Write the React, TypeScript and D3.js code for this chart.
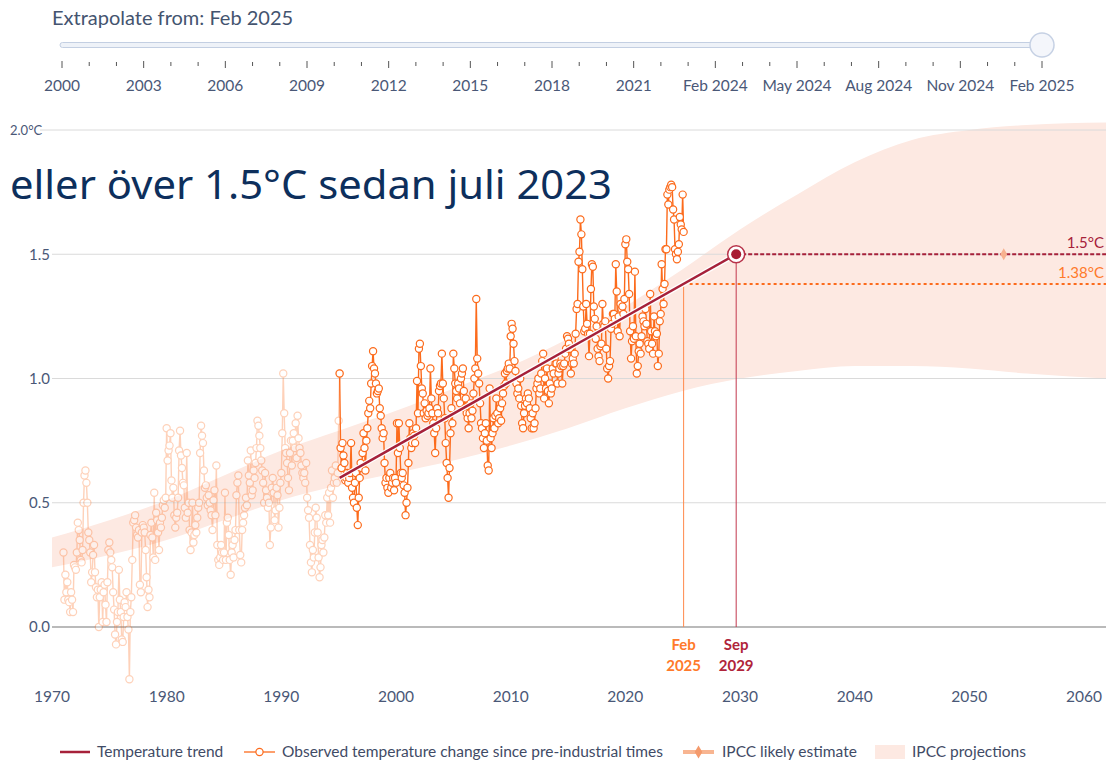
import { useEffect, useRef } from "react";
import * as d3 from "d3";

// monthly observed temperature change since pre-industrial (°C), Jan..Dec
const obsFirstYear = 1971;
const obs1971 = [0.3, 0.11, 0.21, 0.14, 0.18, 0.11, 0.1, 0.06, 0.14, 0.11, 0.06, 0.25];
const obs1972 = [0.24, 0.23, 0.3, 0.42, 0.39, 0.35, 0.27, 0.26, 0.31, 0.5, 0.61, 0.63];
const obs1973 = [0.58, 0.5, 0.38, 0.35, 0.3, 0.18, 0.22, 0.29, 0.33, 0.22, 0.16, 0.12];
const obs1974 = [0.15, 0.0, 0.12, 0.15, 0.18, 0.02, 0.14, 0.17, 0.09, 0.02, 0.18, 0.31];
const obs1975 = [0.34, 0.3, 0.27, 0.24, 0.14, 0.07, -0.03, -0.07, 0.02, 0.06, 0.23, 0.11];
const obs1976 = [0.06, -0.05, -0.06, 0.04, 0.1, 0.08, 0.14, 0.04, -0.01, -0.21, 0.06, 0.12];
const obs1977 = [0.27, 0.42, 0.43, 0.45, 0.4, 0.37, 0.36, 0.39, 0.17, 0.14, 0.38, 0.41];
const obs1978 = [0.4, 0.38, 0.31, 0.2, 0.08, 0.15, 0.12, 0.37, 0.42, 0.36, 0.28, 0.54];
const obs1979 = [0.27, 0.46, 0.43, 0.38, 0.31, 0.42, 0.4, 0.44, 0.49, 0.51, 0.48, 0.52];
const obs1980 = [0.8, 0.67, 0.71, 0.73, 0.78, 0.59, 0.52, 0.56, 0.45, 0.4, 0.44, 0.46];
const obs1981 = [0.52, 0.71, 0.79, 0.69, 0.64, 0.58, 0.57, 0.48, 0.44, 0.7, 0.46, 0.5];
const obs1982 = [0.39, 0.31, 0.38, 0.5, 0.34, 0.37, 0.41, 0.38, 0.44, 0.48, 0.5, 0.7];
const obs1983 = [0.81, 0.77, 0.74, 0.63, 0.56, 0.57, 0.52, 0.49, 0.53, 0.5, 0.47, 0.45];
const obs1984 = [0.39, 0.51, 0.55, 0.45, 0.65, 0.33, 0.27, 0.25, 0.28, 0.33, 0.3, 0.27];
const obs1985 = [0.3, 0.54, 0.27, 0.42, 0.44, 0.37, 0.27, 0.21, 0.3, 0.33, 0.28, 0.35];
const obs1986 = [0.39, 0.53, 0.58, 0.61, 0.39, 0.29, 0.26, 0.39, 0.42, 0.45, 0.48, 0.52];
const obs1987 = [0.49, 0.67, 0.61, 0.58, 0.71, 0.53, 0.55, 0.63, 0.6, 0.66, 0.72, 0.83];
const obs1988 = [0.81, 0.77, 0.72, 0.67, 0.63, 0.58, 0.5, 0.62, 0.55, 0.52, 0.48, 0.5];
const obs1989 = [0.33, 0.4, 0.56, 0.6, 0.54, 0.43, 0.47, 0.56, 0.53, 0.4, 0.48, 0.58];
const obs1990 = [0.62, 0.78, 1.02, 0.86, 0.72, 0.7, 0.66, 0.6, 0.55, 0.7, 0.75, 0.65];
const obs1991 = [0.75, 0.78, 0.72, 0.82, 0.68, 0.85, 0.76, 0.72, 0.7, 0.65, 0.62, 0.6];
const obs1992 = [0.62, 0.58, 0.66, 0.52, 0.47, 0.44, 0.33, 0.26, 0.22, 0.31, 0.28, 0.38];
const obs1993 = [0.48, 0.44, 0.38, 0.28, 0.2, 0.24, 0.33, 0.35, 0.3, 0.36, 0.45, 0.42];
const obs1994 = [0.52, 0.45, 0.54, 0.42, 0.56, 0.63, 0.52, 0.58, 0.6, 0.65, 0.58, 0.62];
const obs1995 = [0.83, 1.02, 0.72, 0.64, 0.74, 0.69, 0.66, 0.59, 0.6, 0.62, 0.58, 0.6];
const obs1996 = [0.62, 0.74, 0.56, 0.52, 0.5, 0.58, 0.62, 0.48, 0.41, 0.52, 0.6, 0.66];
const obs1997 = [0.64, 0.7, 0.78, 0.72, 0.63, 0.75, 0.8, 0.86, 0.91, 0.88, 0.98, 1.05];
const obs1998 = [1.11, 1.04, 1.02, 0.98, 0.94, 0.95, 0.96, 0.88, 0.85, 0.8, 0.76, 0.78];
const obs1999 = [0.66, 0.58, 0.6, 0.56, 0.54, 0.6, 0.62, 0.56, 0.58, 0.6, 0.55, 0.6];
const obs2000 = [0.58, 0.82, 0.7, 0.82, 0.72, 0.62, 0.6, 0.62, 0.57, 0.54, 0.45, 0.5];
const obs2001 = [0.56, 0.66, 0.82, 0.76, 0.72, 0.74, 0.78, 0.77, 0.74, 0.8, 0.99, 0.86];
const obs2002 = [1.12, 1.14, 1.05, 0.96, 0.94, 0.86, 0.9, 0.84, 0.87, 0.85, 0.86, 0.88];
const obs2003 = [1.04, 0.92, 0.86, 0.82, 0.78, 0.7, 0.8, 0.88, 0.86, 0.95, 0.97, 0.98];
const obs2004 = [1.1, 0.98, 0.92, 0.84, 0.74, 0.66, 0.6, 0.52, 0.64, 0.78, 0.88, 0.82];
const obs2005 = [1.1, 1.04, 0.98, 0.95, 0.92, 0.98, 0.96, 0.9, 1.0, 1.02, 1.04, 0.95];
const obs2006 = [0.88, 0.92, 0.86, 0.84, 0.8, 0.86, 0.9, 0.84, 0.87, 0.94, 1.0, 1.04];
const obs2007 = [1.32, 1.08, 1.02, 0.98, 0.9, 0.82, 0.8, 0.76, 0.72, 0.78, 0.82, 0.75];
const obs2008 = [0.65, 0.63, 0.96, 0.76, 0.72, 0.78, 0.84, 0.8, 0.85, 0.92, 0.86, 0.82];
const obs2009 = [0.84, 0.88, 0.83, 0.9, 0.94, 0.97, 1.02, 0.98, 1.03, 1.04, 1.06, 1.04];
const obs2010 = [1.17, 1.22, 1.2, 1.14, 1.07, 1.03, 0.98, 0.94, 0.96, 0.92, 1.0, 0.89];
const obs2011 = [0.82, 0.8, 0.86, 0.89, 0.92, 0.9, 0.94, 0.92, 0.88, 0.84, 0.8, 0.86];
const obs2012 = [0.8, 0.82, 0.88, 0.96, 0.98, 1.0, 0.94, 0.96, 1.02, 1.07, 1.1, 0.92];
const obs2013 = [1.0, 0.96, 1.04, 0.95, 0.9, 0.98, 0.94, 0.96, 1.04, 1.02, 1.08, 1.06];
const obs2014 = [1.06, 0.98, 1.02, 1.04, 1.06, 1.05, 0.98, 1.05, 1.06, 1.1, 1.12, 1.17];
const obs2015 = [1.16, 1.14, 1.12, 1.02, 1.06, 1.08, 1.06, 1.1, 1.18, 1.28, 1.3, 1.47];
const obs2016 = [1.51, 1.64, 1.58, 1.44, 1.29, 1.19, 1.2, 1.3, 1.22, 1.18, 1.09, 1.18];
const obs2017 = [1.36, 1.46, 1.45, 1.29, 1.24, 1.16, 1.21, 1.12, 1.09, 1.07, 1.13, 1.14];
const obs2018 = [1.3, 1.22, 1.21, 1.23, 1.12, 1.04, 1.0, 1.05, 1.07, 1.2, 1.22, 1.26];
const obs2019 = [1.26, 1.24, 1.46, 1.35, 1.19, 1.25, 1.17, 1.3, 1.28, 1.29, 1.26, 1.32];
const obs2020 = [1.54, 1.56, 1.47, 1.44, 1.34, 1.19, 1.08, 1.15, 1.21, 1.16, 1.43, 1.17];
const obs2021 = [1.02, 1.05, 1.11, 1.14, 1.1, 1.17, 1.25, 1.23, 1.21, 1.28, 1.22, 1.15];
const obs2022 = [1.14, 1.12, 1.34, 1.19, 1.14, 1.1, 1.25, 1.19, 1.17, 1.18, 1.05, 1.1];
const obs2023 = [1.23, 1.26, 1.46, 1.36, 1.3, 1.38, 1.52, 1.52, 1.74, 1.7, 1.76, 1.77];
const obs2024 = [1.78, 1.77, 1.68, 1.64, 1.52, 1.5, 1.48, 1.51, 1.54, 1.65, 1.62, 1.6];
const obs2025 = [1.74, 1.59];

const observedYears = [
  obs1971, obs1972, obs1973, obs1974, obs1975, obs1976, obs1977, obs1978, obs1979, obs1980,
  obs1981, obs1982, obs1983, obs1984, obs1985, obs1986, obs1987, obs1988, obs1989, obs1990,
  obs1991, obs1992, obs1993, obs1994, obs1995, obs1996, obs1997, obs1998, obs1999, obs2000,
  obs2001, obs2002, obs2003, obs2004, obs2005, obs2006, obs2007, obs2008, obs2009, obs2010,
  obs2011, obs2012, obs2013, obs2014, obs2015, obs2016, obs2017, obs2018, obs2019, obs2020,
  obs2021, obs2022, obs2023, obs2024, obs2025,
];

// IPCC projection envelope
const bandYears = [1970, 1975, 1980, 1985, 1990, 1995, 2000, 2005, 2010, 2015, 2020, 2025, 2030, 2035, 2040, 2045, 2050, 2055, 2062];
const bandLow = [0.24, 0.29, 0.35, 0.43, 0.51, 0.57, 0.62, 0.67, 0.73, 0.8, 0.88, 0.95, 1.0, 1.03, 1.05, 1.05, 1.04, 1.02, 1.0];
const bandHigh = [0.36, 0.43, 0.51, 0.61, 0.71, 0.79, 0.87, 0.96, 1.05, 1.16, 1.29, 1.44, 1.6, 1.74, 1.87, 1.96, 2.0, 2.02, 2.03];

// trend fitted from Feb 1995, crossing 1.5 in Sep 2029
const trendDates = [1995 + 1 / 12, 2029 + 8 / 12];
const trendValues = [0.6, 1.5];
const fromDate = 2025 + 1 / 12;
const fromValue = 1.38;
const ipccLikelyDate = 2053;

const sliderLabels = ["2000", "2003", "2006", "2009", "2012", "2015", "2018", "2021", "Feb 2024", "May 2024", "Aug 2024", "Nov 2024", "Feb 2025"];
const xTicks = [1970, 1980, 1990, 2000, 2010, 2020, 2030, 2040, 2050, 2060];
const yTicks = [0, 0.5, 1.0, 1.5, 2.0];

const ORANGE = "#fc6b1c";
const DARKRED = "#a6213a";
const BAND = "#fde9e2";
const SLATE = "#4a5877";
const FONT = "Lato, 'Noto Sans', sans-serif";

export default function App() {
  const svgRef = useRef<SVGSVGElement | null>(null);

  useEffect(() => {
    document.body.style.margin = "0";
    const width = 1106;
    const height = 761;
    const svg = d3.select(svgRef.current).attr("width", width).attr("height", height);
    svg.selectAll("*").remove();

    const x = d3.scaleLinear().domain([1970, 2060]).range([52, 1084]);
    const y = d3.scaleLinear().domain([0, 2]).range([627, 130]);

    // ---- slider ----
    svg
      .append("text")
      .attr("x", 52)
      .attr("y", 25)
      .attr("font-family", FONT)
      .attr("font-size", 20)
      .attr("fill", "#44546f")
      .text("Extrapolate from: Feb 2025");

    const sx = d3.scalePoint<string>().domain(sliderLabels).range([62, 1042]);
    const step = sx.step();
    svg
      .append("rect")
      .attr("x", 60)
      .attr("y", 42.5)
      .attr("width", 982)
      .attr("height", 5)
      .attr("rx", 2.5)
      .attr("fill", "#eef2f8")
      .attr("stroke", "#c3cfe2");
    sliderLabels.forEach((lab, i) => {
      const px = sx(lab)!;
      svg
        .append("line")
        .attr("x1", px).attr("x2", px)
        .attr("y1", 61).attr("y2", 68)
        .attr("stroke", "#555").attr("stroke-width", 1);
      if (i < sliderLabels.length - 1) {
        [1, 2].forEach((k) => {
          const mx = px + (step * k) / 3;
          svg
            .append("line")
            .attr("x1", mx).attr("x2", mx)
            .attr("y1", 62).attr("y2", 66)
            .attr("stroke", "#555").attr("stroke-width", 1);
        });
      }
      svg
        .append("text")
        .attr("x", px)
        .attr("y", 91)
        .attr("text-anchor", "middle")
        .attr("font-family", FONT)
        .attr("font-size", 15.5)
        .attr("fill", SLATE)
        .text(lab);
    });
    svg
      .append("circle")
      .attr("cx", sx("Feb 2025")!)
      .attr("cy", 45)
      .attr("r", 12)
      .attr("fill", "#f4f6fb")
      .attr("stroke", "#c6d1e4")
      .attr("stroke-width", 1.5);

    // ---- chart ----
    const defs = svg.append("defs");
    defs
      .append("clipPath")
      .attr("id", "plot-clip")
      .append("rect")
      .attr("x", 52)
      .attr("y", 100)
      .attr("width", width - 52)
      .attr("height", 560);

    const plot = svg.append("g").attr("clip-path", "url(#plot-clip)");

    const bandData = bandYears.map((yr, i) => ({ yr, lo: bandLow[i], hi: bandHigh[i] }));
    plot
      .append("path")
      .datum(bandData)
      .attr("fill", BAND)
      .attr(
        "d",
        d3
          .area<{ yr: number; lo: number; hi: number }>()
          .x((d) => x(d.yr))
          .y0((d) => y(d.lo))
          .y1((d) => y(d.hi))
          .curve(d3.curveMonotoneX)
      );

    // gridlines
    yTicks.forEach((t) => {
      svg
        .append("line")
        .attr("x1", t === 2 ? 40 : 52)
        .attr("x2", width)
        .attr("y1", y(t))
        .attr("y2", y(t))
        .attr("stroke", t === 0 ? "#777" : "#dadada")
        .attr("stroke-width", t === 0 ? 1.2 : 1);
      svg
        .append("text")
        .attr("x", t === 2 ? 10 : 50)
        .attr("y", y(t))
        .attr("dy", "0.35em")
        .attr("text-anchor", t === 2 ? "start" : "end")
        .attr("font-family", FONT)
        .attr("font-size", t === 2 ? 13 : 15)
        .attr("fill", SLATE)
        .text(t === 2 ? "2.0°C" : t.toFixed(1));
    });

    xTicks.forEach((t) => {
      svg
        .append("text")
        .attr("x", x(t))
        .attr("y", 702)
        .attr("text-anchor", "middle")
        .attr("font-family", FONT)
        .attr("font-size", 15.5)
        .attr("fill", SLATE)
        .text(String(t));
    });

    // observed series
    const observed: { t: number; v: number }[] = [];
    observedYears.forEach((vals, yi) => {
      vals.forEach((v, m) => observed.push({ t: obsFirstYear + yi + m / 12, v }));
    });
    const cut = trendDates[0];
    const faded = observed.filter((d) => d.t <= cut + 1e-6);
    const active = observed.filter((d) => d.t >= cut - 1e-6);
    const line = d3
      .line<{ t: number; v: number }>()
      .x((d) => x(d.t))
      .y((d) => y(d.v));

    [
      { data: faded, op: 0.3 },
      { data: active, op: 1 },
    ].forEach(({ data, op }) => {
      const g = svg.append("g").attr("opacity", op);
      g.append("path")
        .datum(data)
        .attr("fill", "none")
        .attr("stroke", ORANGE)
        .attr("stroke-width", 1.4)
        .attr("d", line);
      g.selectAll("circle")
        .data(data)
        .join("circle")
        .attr("cx", (d) => x(d.t))
        .attr("cy", (d) => y(d.v))
        .attr("r", 3.6)
        .attr("fill", "#fff")
        .attr("stroke", ORANGE)
        .attr("stroke-width", 1.2);
    });

    // reference lines
    const endX = x(trendDates[1]);
    const fromX = x(fromDate);
    svg
      .append("line")
      .attr("x1", fromX).attr("x2", fromX)
      .attr("y1", y(fromValue)).attr("y2", y(0))
      .attr("stroke", "#ff8a4c").attr("stroke-width", 1);
    svg
      .append("line")
      .attr("x1", endX).attr("x2", endX)
      .attr("y1", y(trendValues[1])).attr("y2", y(0))
      .attr("stroke", "#c2374d").attr("stroke-width", 1);
    svg
      .append("line")
      .attr("x1", fromX).attr("x2", width)
      .attr("y1", y(fromValue)).attr("y2", y(fromValue))
      .attr("stroke", ORANGE).attr("stroke-width", 2)
      .attr("stroke-dasharray", "3,3");
    svg
      .append("line")
      .attr("x1", endX).attr("x2", width)
      .attr("y1", y(trendValues[1])).attr("y2", y(trendValues[1]))
      .attr("stroke", DARKRED).attr("stroke-width", 2)
      .attr("stroke-dasharray", "4,2");

    // IPCC likely estimate
    svg
      .append("path")
      .attr("d", d3.symbol().type(d3.symbolDiamond).size(40)())
      .attr("transform", `translate(${x(ipccLikelyDate)},${y(trendValues[1])})`)
      .attr("fill", "#f7b18e");

    // trend line
    svg
      .append("path")
      .datum(trendDates.map((t, i) => ({ t, v: trendValues[i] })))
      .attr("fill", "none")
      .attr("stroke", "#fff")
      .attr("stroke-width", 5)
      .attr("d", line);
    svg
      .append("path")
      .datum(trendDates.map((t, i) => ({ t, v: trendValues[i] })))
      .attr("fill", "none")
      .attr("stroke", DARKRED)
      .attr("stroke-width", 2.5)
      .attr("d", line);

    svg
      .append("circle")
      .attr("cx", endX).attr("cy", y(trendValues[1]))
      .attr("r", 8.5)
      .attr("fill", "#fff")
      .attr("stroke", "#b8334a")
      .attr("stroke-width", 1.5);
    svg
      .append("circle")
      .attr("cx", endX).attr("cy", y(trendValues[1]))
      .attr("r", 5)
      .attr("fill", "#a81d33");

    svg
      .append("text")
      .attr("x", 1104)
      .attr("y", y(trendValues[1]) - 6)
      .attr("text-anchor", "end")
      .attr("font-family", FONT)
      .attr("font-size", 15)
      .attr("fill", DARKRED)
      .text("1.5°C");
    svg
      .append("text")
      .attr("x", 1104)
      .attr("y", y(fromValue) - 6)
      .attr("text-anchor", "end")
      .attr("font-family", FONT)
      .attr("font-size", 15)
      .attr("fill", "#ff7a2b")
      .text("1.38°C");

    // date labels under the axis
    [
      { px: fromX, lines: ["Feb", "2025"], color: "#ff7a2b" },
      { px: endX, lines: ["Sep", "2029"], color: "#b0243a" },
    ].forEach(({ px, lines, color }) => {
      lines.forEach((s, i) => {
        svg
          .append("text")
          .attr("x", px)
          .attr("y", 650 + i * 20.5)
          .attr("text-anchor", "middle")
          .attr("font-family", FONT)
          .attr("font-weight", "bold")
          .attr("font-size", 15)
          .attr("fill", color)
          .text(s);
      });
    });

    // ---- legend ----
    const ly = 752;
    const lg = svg.append("g").attr("font-family", FONT).attr("font-size", 15.5).attr("fill", "#3f4b66");
    lg.append("line").attr("x1", 60).attr("x2", 90).attr("y1", ly).attr("y2", ly).attr("stroke", DARKRED).attr("stroke-width", 2.5);
    lg.append("text").attr("x", 97).attr("y", ly).attr("dy", "0.35em").text("Temperature trend");
    lg.append("line").attr("x1", 244).attr("x2", 275).attr("y1", ly).attr("y2", ly).attr("stroke", ORANGE).attr("stroke-width", 1.3);
    lg.append("circle").attr("cx", 259.5).attr("cy", ly).attr("r", 3.6).attr("fill", "#fff").attr("stroke", ORANGE).attr("stroke-width", 1.2);
    lg.append("text").attr("x", 282).attr("y", ly).attr("dy", "0.35em").text("Observed temperature change since pre-industrial times");
    lg.append("line").attr("x1", 683).attr("x2", 714).attr("y1", ly).attr("y2", ly).attr("stroke", "#f8b591").attr("stroke-width", 4);
    lg.append("path").attr("d", d3.symbol().type(d3.symbolDiamond).size(50)()).attr("transform", `translate(698.5,${ly})`).attr("fill", "#f49a6c");
    lg.append("text").attr("x", 722).attr("y", ly).attr("dy", "0.35em").text("IPCC likely estimate");
    lg.append("rect").attr("x", 875).attr("y", ly - 7).attr("width", 30).attr("height", 14).attr("fill", BAND);
    lg.append("text").attr("x", 912).attr("y", ly).attr("dy", "0.35em").text("IPCC projections");

    // overlay caption
    svg
      .append("text")
      .attr("x", 10)
      .attr("y", 199)
      .attr("font-family", "'Noto Sans', 'Open Sans', sans-serif")
      .attr("font-size", 40)
      .attr("textLength", 602)
      .attr("lengthAdjust", "spacingAndGlyphs")
      .attr("fill", "#0d2f5c")
      .text("eller över 1.5°C sedan juli 2023");
  }, []);

  return (
    <div style={{ position: "relative", width: 1106, height: 761 }}>
      <svg ref={svgRef}></svg>
    </div>
  );
}
